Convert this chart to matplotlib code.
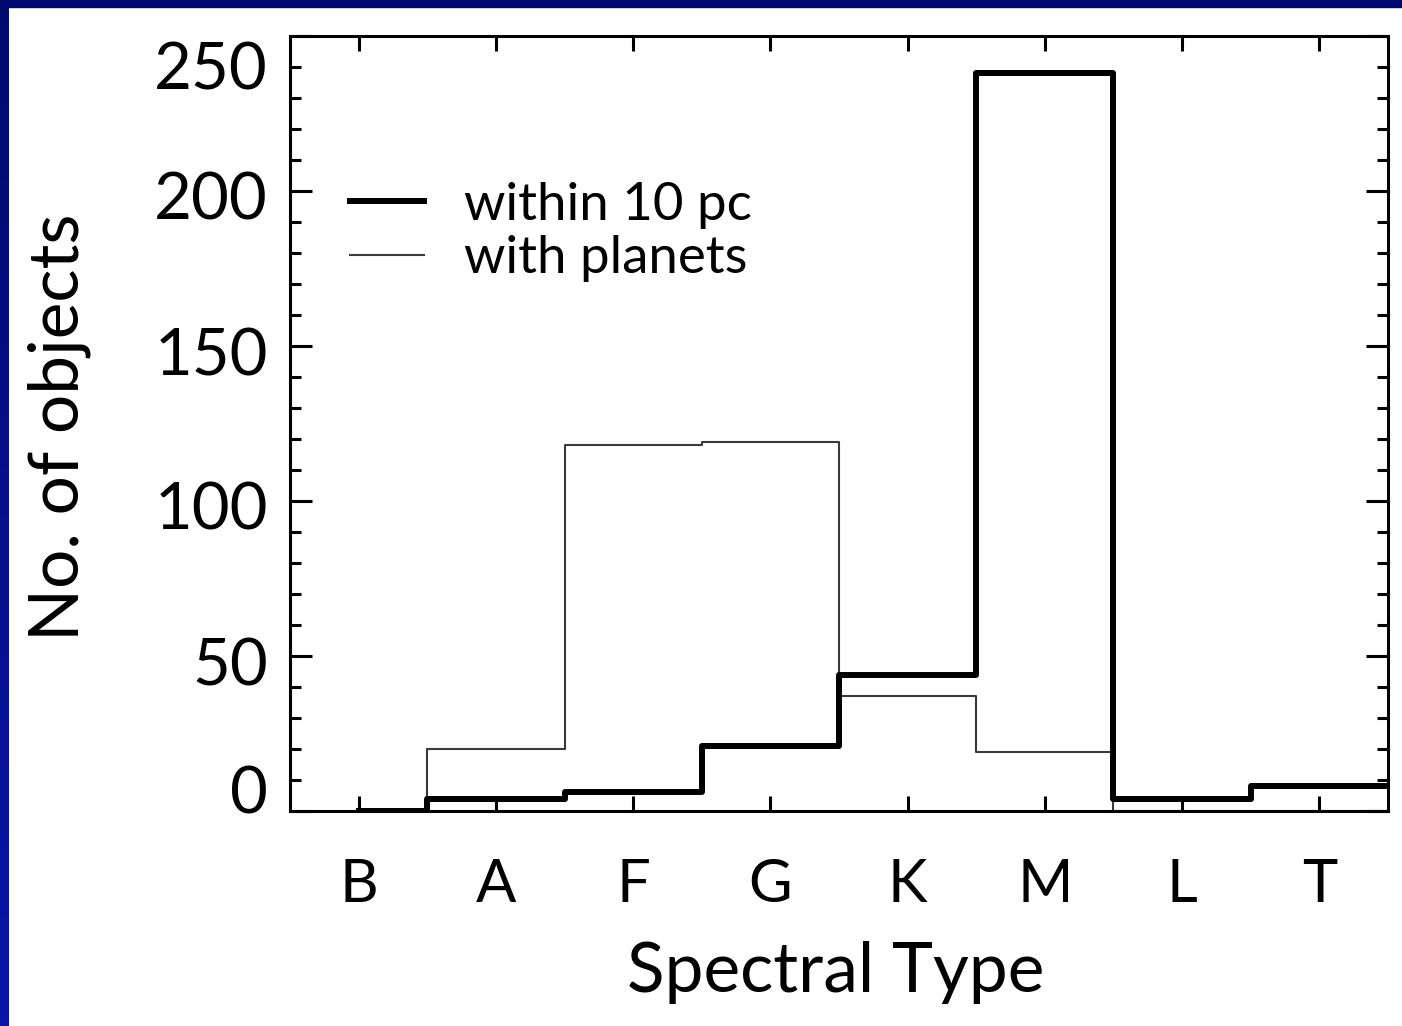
import numpy as np
import matplotlib.pyplot as plt
import matplotlib.transforms as mtransforms
from matplotlib.ticker import MultipleLocator

# spectral type histogram data
types = ['B', 'A', 'F', 'G', 'K', 'M', 'L', 'T']
within_10pc = [0, 4, 6, 21, 44, 238, 4, 8]
with_planets = [0, 20, 118, 119, 37, 19, 0, 0]
yticks = [0, 50, 100, 150, 200, 250]

plt.rcParams['font.family'] = ['Lato', 'DejaVu Sans']

fig = plt.figure(figsize=(14.02, 10.26), dpi=100)
fig.patch.set_facecolor('white')

# blue slide border (top and left)
fig.patches.append(plt.Rectangle((0, 1 - 7 / 1026), 1, 7 / 1026, transform=fig.transFigure,
                                 color='#000A6E', zorder=0))
band = fig.add_axes([0, 0, 9 / 1402, 1 - 7 / 1026])
band.imshow(np.linspace(0, 1, 100).reshape(-1, 1), aspect='auto', origin='upper',
            cmap=plt.matplotlib.colors.LinearSegmentedColormap.from_list('b', ['#000A6E', '#0A16A8']))
band.axis('off')

ax = fig.add_axes([290 / 1402, 1 - 811 / 1026, 1098 / 1402, 775 / 1026])

x = np.arange(1, len(types) + 1)
# extend last bin to the right edge, like the IDL histogram mode
xs = np.append(x, x[-1] + 0.5)
ax.step(xs, np.append(with_planets, with_planets[-1]), where='mid', color='#3a3a3a', lw=1.5,
        label='with planets', zorder=2)
ax.step(xs, np.append(within_10pc, within_10pc[-1]), where='mid', color='black', lw=4.3,
        label='within 10 pc', zorder=3)

ax.set_xlim(0.5, 8.5)
ax.set_ylim(0, 250)
ax.set_xticks(x)
ax.set_xticklabels(types, fontsize=43)
ax.set_yticks(yticks)
ax.set_yticklabels([str(v) for v in yticks], fontsize=47)
ax.yaxis.set_minor_locator(MultipleLocator(10))

ax.tick_params(axis='x', which='major', direction='in', length=11, width=2.2, top=True, pad=34)
ax.tick_params(axis='y', which='major', direction='in', length=16, width=2.2, right=True, pad=16)
ax.tick_params(axis='y', which='minor', direction='in', length=8, width=2.2, right=True)
for s in ax.spines.values():
    s.set_linewidth(2.2)

# IDL style: end labels pulled inside the axis range
labs = ax.get_yticklabels()
for v, lab in zip(yticks, labs):
    dy = -5
    if v == 0:
        dy = 21
    elif v == 250:
        dy = -30
    lab.set_transform(lab.get_transform() + mtransforms.ScaledTranslation(0, dy / 100, fig.dpi_scale_trans))

ax.set_xlabel('Spectral Type', fontsize=50)
ax.xaxis.set_label_coords(0.497, -0.168)
ax.set_ylabel('No. of objects', fontsize=50)
ax.yaxis.set_label_coords(-0.181, 0.495)

h, l = ax.get_legend_handles_labels()
ax.legend(h[::-1], l[::-1], loc='upper left', bbox_to_anchor=(0.055, 0.812), frameon=False,
          prop={'size': 38}, handlelength=1.4, handletextpad=0.75,
          labelspacing=0.12, borderpad=0, borderaxespad=0)

fig.savefig('out.png', dpi=100)
